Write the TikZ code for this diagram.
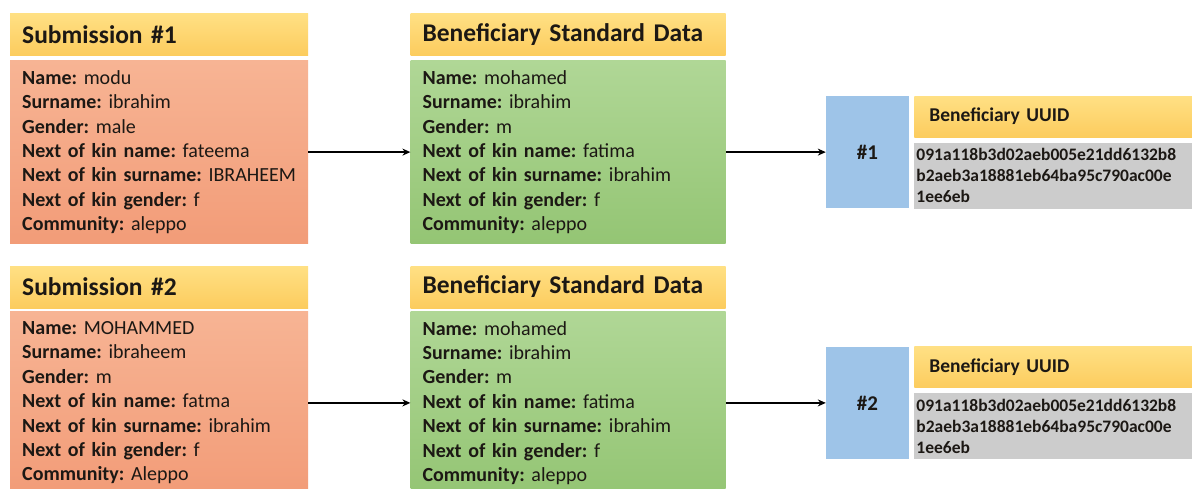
\documentclass[tikz,border=0pt]{standalone}
\usepackage{fontspec}
\setmainfont{Carlito}
\frenchspacing
\usetikzlibrary{
  arrows.meta,
  positioning
}
\definecolor{headtop}{RGB}{255,224,132}
\definecolor{headbot}{RGB}{252,204,94}
\definecolor{subtop}{RGB}{247,180,148}
\definecolor{subbot}{RGB}{242,156,120}
\definecolor{stdtop}{RGB}{176,215,150}
\definecolor{stdbot}{RGB}{148,197,116}
\definecolor{idblue}{RGB}{158,196,232}
\definecolor{uuidgray}{RGB}{204,204,204}
\definecolor{inkdark}{RGB}{28,24,20}
\newcommand{\field}[2]{\textbf{#1:} #2}
\tikzset{
  headbox/.style={
    top color=headtop, bottom color=headbot,
    inner xsep=12pt, inner ysep=0pt, minimum height=42pt,
    align=left, text=inkdark,
    font=\fontsize{25.5}{30}\selectfont\bfseries
  },
  subbox/.style={
    top color=subtop, bottom color=subbot,
    text width=274pt, inner xsep=12pt, inner ysep=0pt,
    minimum height=183pt, align=left, text=inkdark,
    font=\fontsize{20}{24.4}\selectfont
  },
  stdbox/.style={
    top color=stdtop, bottom color=stdbot,
    text width=291pt, inner xsep=12pt, inner ysep=0pt,
    minimum height=183pt, align=left, text=inkdark,
    font=\fontsize{20}{24.4}\selectfont
  },
  idbox/.style={
    fill=idblue, minimum width=83pt, minimum height=112pt,
    inner sep=0pt, text=inkdark,
    font=\fontsize{21}{25}\selectfont\bfseries
  },
  uuidhead/.style={
    top color=headtop, bottom color=headbot,
    text width=270pt, inner xsep=15pt, inner ysep=0pt,
    minimum height=41pt, align=left, text=inkdark,
    font=\fontsize{19.5}{23}\selectfont\bfseries
  },
  uuidbox/.style={
    fill=uuidgray, text width=296pt, inner xsep=2pt, inner ysep=0pt,
    minimum height=66pt, align=left, text=inkdark,
    font=\fontsize{17.5}{21.3}\selectfont\bfseries
  },
  flowarrow/.style={
    -{Stealth[length=8pt,width=7pt]},
    draw=black, line width=1.5pt
  },
}
\begin{document}
\begin{tikzpicture}[x=1pt,y=1pt]
  \useasboundingbox[fill=white] (0,0) rectangle (1192,-488);

  %% Submissions
  \node[headbox, text width=274pt, anchor=north west] (sub1head) at (10,-13)
    {Submission \#1};
  \node[subbox, below=5pt of sub1head] (sub1) {%
    \field{Name}{modu}\\
    \field{Surname}{ibrahim}\\
    \field{Gender}{male}\\
    \field{Next of kin name}{fateema}\\
    \field{Next of kin surname}{IBRAHEEM}\\
    \field{Next of kin gender}{f}\\
    \field{Community}{aleppo}};

  \node[headbox, text width=274pt, below=22pt of sub1] (sub2head)
    {Submission \#2};
  \node[subbox, below=3pt of sub2head] (sub2) {%
    \field{Name}{MOHAMMED}\\
    \field{Surname}{ibraheem}\\
    \field{Gender}{m}\\
    \field{Next of kin name}{fatma}\\
    \field{Next of kin surname}{ibrahim}\\
    \field{Next of kin gender}{f}\\
    \field{Community}{Aleppo}};

  %% Standard data
  \node[headbox, text width=291pt, right=102pt of sub1head] (std1head)
    {Beneficiary Standard Data};
  \node[stdbox, below=5pt of std1head] (std1) {%
    \field{Name}{mohamed}\\
    \field{Surname}{ibrahim}\\
    \field{Gender}{m}\\
    \field{Next of kin name}{fatima}\\
    \field{Next of kin surname}{ibrahim}\\
    \field{Next of kin gender}{f}\\
    \field{Community}{aleppo}};

  \node[headbox, text width=291pt, right=102pt of sub2head] (std2head)
    {Beneficiary Standard Data};
  \node[stdbox, below=3pt of std2head] (std2) {%
    \field{Name}{mohamed}\\
    \field{Surname}{ibrahim}\\
    \field{Gender}{m}\\
    \field{Next of kin name}{fatima}\\
    \field{Next of kin surname}{ibrahim}\\
    \field{Next of kin gender}{f}\\
    \field{Community}{aleppo}};

  %% UUIDs
  \node[idbox, right=100pt of std1] (id1) {\#1};
  \node[uuidhead, anchor=north west] (uuid1head)
    at ([xshift=5pt]id1.north east) {Beneficiary UUID};
  \node[uuidbox, below=5pt of uuid1head] (uuid1)
    {091a118b3d02aeb005e21dd6132b8\\b2aeb3a18881eb64ba95c790ac00e\\1ee6eb};

  \node[idbox, right=100pt of std2] (id2) {\#2};
  \node[uuidhead, anchor=north west] (uuid2head)
    at ([xshift=5pt]id2.north east) {Beneficiary UUID};
  \node[uuidbox, below=5pt of uuid2head] (uuid2)
    {091a118b3d02aeb005e21dd6132b8\\b2aeb3a18881eb64ba95c790ac00e\\1ee6eb};

  %% Arrows
  \draw[flowarrow] (sub1) -- (std1);
  \draw[flowarrow] (std1) -- (id1);
  \draw[flowarrow] (sub2) -- (std2);
  \draw[flowarrow] (std2) -- (id2);

\end{tikzpicture}
\end{document}
